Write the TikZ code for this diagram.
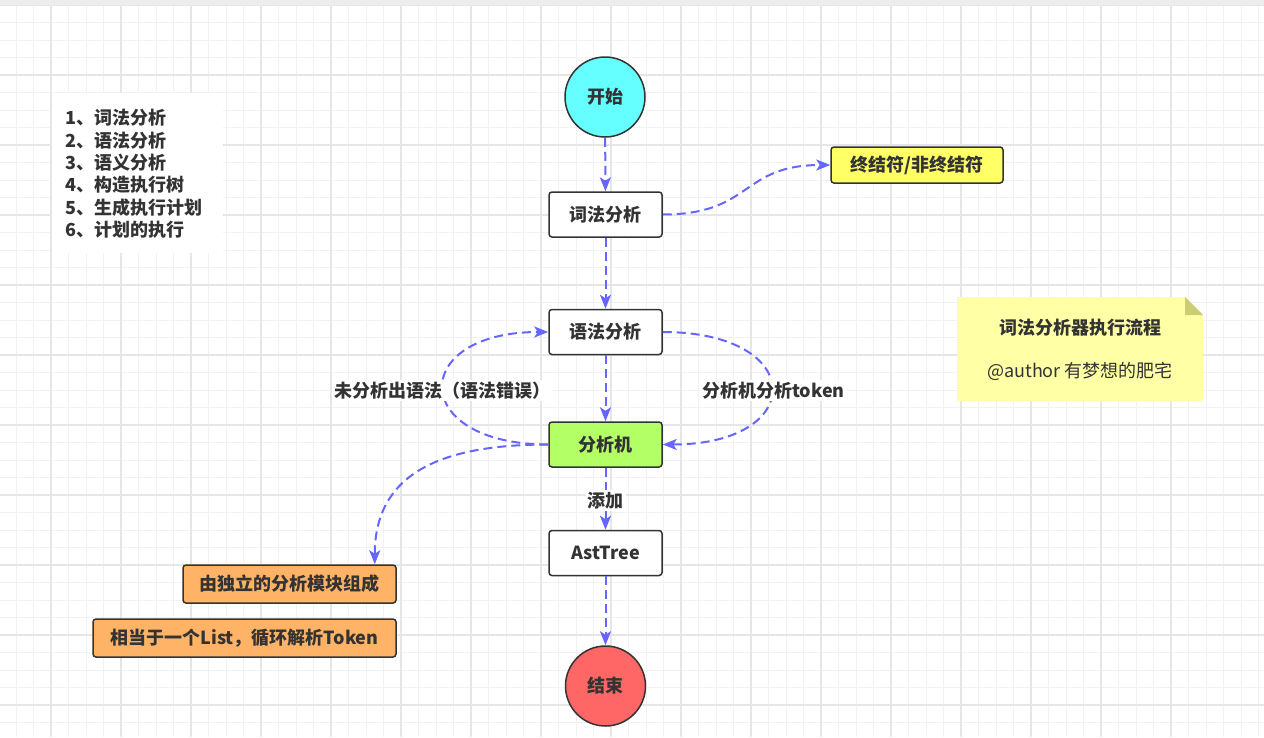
\documentclass[tikz,border=0pt]{standalone}
\usepackage{fontspec}
\setmainfont{Noto Sans CJK SC}
\usetikzlibrary{arrows.meta}
\definecolor{txt}{HTML}{333333}
\definecolor{flow}{HTML}{6666FF}
\definecolor{gridminor}{HTML}{F2F2F2}
\definecolor{gridmajor}{HTML}{E6E6E6}
\definecolor{startfill}{HTML}{66FFFF}
\definecolor{endfill}{HTML}{FF6666}
\definecolor{anafill}{HTML}{B3FF66}
\definecolor{termfill}{HTML}{FFFF66}
\definecolor{modfill}{HTML}{FFB366}
\definecolor{notefill}{HTML}{FFFFA6}
\definecolor{notefold}{HTML}{CCCC73}
\tikzset{
  stepbox/.style={draw=txt,line width=1.5pt,rounded corners=3pt,fill=white,text=txt,
    minimum width=113pt,minimum height=45pt,font=\bfseries\fontsize{18}{21}\selectfont},
  endpoint/.style={circle,draw=txt,line width=1.5pt,minimum size=80pt,text=txt,
    font=\bfseries\fontsize{18}{21}\selectfont},
  tag/.style={fill=white,text=txt,inner sep=2pt,font=\bfseries\fontsize{18}{21}\selectfont},
  flowline/.style={draw=flow,line width=2pt,dash pattern=on 9pt off 5pt,->},
}
\begin{document}
\begin{tikzpicture}[x=1pt,y=-1pt,>={Stealth[length=14pt,width=11pt,inset=3.5pt]}]
	\useasboundingbox (0,0) rectangle (1264,737);
	% grid background
	\fill[white] (0,0) rectangle (1264,737);
	\foreach \k in {0,...,71} \draw[gridminor,line width=1pt] ({16+17.5*\k},5)--({16+17.5*\k},737);
	\foreach \k in {0,...,41} \draw[gridminor,line width=1pt] (0,{5+17.5*\k})--(1264,{5+17.5*\k});
	\foreach \k in {0,...,17} \draw[gridmajor,line width=1.2pt] ({51+70*\k-70},5)--({51+70*\k-70},737);
	\foreach \k in {0,...,10} \draw[gridmajor,line width=1.2pt] (0,{5+70*\k})--(1264,{5+70*\k});
	\fill[gridmajor!70] (0,0) rectangle (1264,5);
	% list of steps
	\fill[white] (52,93) rectangle (223,253);
	\node[anchor=west,align=left,inner sep=0pt,text=txt,font=\bfseries\fontsize{18}{22.4}\selectfont] (steps) at (65,174)
		{1、词法分析\\2、语法分析\\3、语义分析\\4、构造执行树\\5、生成执行计划\\6、计划的执行};
	% main flow
	\node[endpoint,fill=startfill] (start) at (605,97) {开始};
	\node[stepbox] (lex) at (605.5,214.5) {词法分析};
	\node[stepbox,minimum width=172pt,minimum height=36pt,fill=termfill] (term) at (917,165) {终结符/非终结符};
	\node[stepbox] (syn) at (605.5,332) {语法分析};
	\node[stepbox,fill=anafill] (ana) at (605.5,444.5) {分析机};
	\node[stepbox] (ast) at (605.5,553) {AstTree};
	\node[endpoint,fill=endfill] (stop) at (605.5,686) {结束};
	\node[stepbox,minimum width=213pt,minimum height=38pt,fill=modfill] (mod) at (289.5,584) {由独立的分析模块组成};
	\node[stepbox,minimum width=303pt,minimum height=38pt,fill=modfill] (list) at (244.5,638) {相当于一个List，循环解析Token};
	% connectors
	\draw[flowline] (start)--(lex);
	\draw[flowline] (lex.east) .. controls +(90,0) and +(-90,0) .. (term.west);
	\draw[flowline] (lex)--(syn);
	\draw[flowline] (syn)--(ana);
	\draw[flowline] (ana.west) .. controls +(-140,0) and +(-140,0) .. (syn.west) node[tag,pos=0.5,xshift=-1pt,yshift=-2pt]{未分析出语法（语法错误）};
	\draw[flowline] (syn.east) .. controls +(145,0) and +(145,0) .. (ana.east) node[tag,pos=0.5,xshift=2pt,yshift=-2pt]{分析机分析token};
	\draw[flowline] (ana.west) .. controls +(-109,0) and +(0,-90) .. ([xshift=-22pt]mod.north east);
	\draw[flowline] (ana)--(ast) node[tag,midway,yshift=-1.5pt]{添加};
	\draw[flowline] (ast)--(stop);
	% note
	\fill[notefill] (957,297)--(1185,297)--(1203,315)--(1203,401)--(957,401)--cycle;
	\fill[notefold] (1185,297)--(1203,315)--(1185,315)--cycle;
	\node[text=txt,font=\bfseries\fontsize{18}{21}\selectfont] (title) at (1080,328) {词法分析器执行流程};
	\node[text=txt,font=\fontsize{18}{21}\selectfont] (author) at (1080,371) {@author 有梦想的肥宅};
\end{tikzpicture}
\end{document}
